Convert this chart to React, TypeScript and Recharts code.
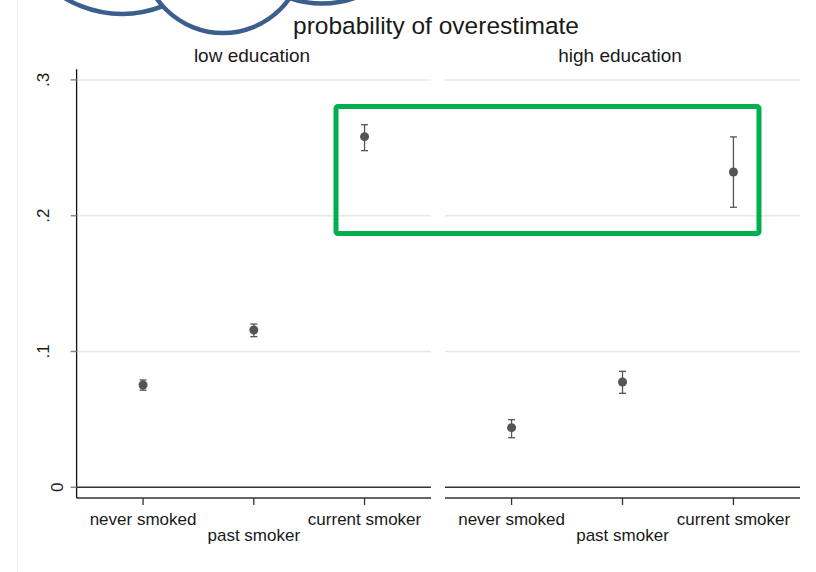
import React from 'react';
import { ScatterChart, Scatter, XAxis, YAxis, ErrorBar, ReferenceLine } from 'recharts';

// ---- data ----
const categories = ['never smoked', 'past smoker', 'current smoker'];
const panelTitles = ['low education', 'high education'];
const chartTitle = 'probability of overestimate';

const lowEduEstimate = [0.0753, 0.1158, 0.2582];
const lowEduLower = [0.0715, 0.1109, 0.2479];
const lowEduUpper = [0.079, 0.1202, 0.267];

const highEduEstimate = [0.0439, 0.0775, 0.2322];
const highEduLower = [0.0365, 0.0692, 0.2062];
const highEduUpper = [0.0498, 0.0854, 0.258];

const yTicks = [0, 0.1, 0.2, 0.3];
const yTickLabels = ['0', '.1', '.2', '.3'];
const gridValues = [0.1, 0.2, 0.3];
const xTicks = [1, 2, 3];

const buildRows = (est: number[], lo: number[], hi: number[]) =>
  categories.map((c, i) => ({ x: i + 1, y: est[i], err: [est[i] - lo[i], hi[i] - est[i]], name: c }));

const lowRows = buildRows(lowEduEstimate, lowEduLower, lowEduUpper);
const highRows = buildRows(highEduEstimate, highEduLower, highEduUpper);

// ---- layout ----
const W = 816;
const H = 572;
const FONT = '"Liberation Sans", Arial, Helvetica, sans-serif';
const Y_DOMAIN: [number, number] = [-0.0079, 0.3078];
const X_DOMAIN: [number, number] = [0.4, 3.6];
const PLOT_TOP = 69.3;
const PLOT_BOTTOM = 498;
const TEXT = '#1a1a1a';
const MARK = '#555555';

const XTick = (props: any) => {
  const { x, payload } = props;
  const idx = Math.round(payload.value) - 1;
  const yy = idx === 1 ? 541 : 525;
  return (
    <text x={x} y={yy} textAnchor="middle" fontSize={17} fill={TEXT} fontFamily={FONT}>
      {categories[idx]}
    </text>
  );
};

const YTick = (props: any) => {
  const { y, payload } = props;
  const i = yTicks.indexOf(payload.value);
  const bx = payload.value === 0 ? 63 : 49;
  return (
    <text
      transform={`translate(${bx},${y}) rotate(-90)`}
      textAnchor="middle"
      fontSize={17}
      fill={TEXT}
      fontFamily={FONT}
    >
      {yTickLabels[i]}
    </text>
  );
};

const Panel = ({ rows, left, width, marginLeft, marginRight, showY }: any) => (
  <div style={{ position: 'absolute', left, top: 0 }}>
    <ScatterChart
      width={width}
      height={H}
      margin={{ top: PLOT_TOP, right: marginRight, bottom: 0, left: marginLeft }}
    >
      <XAxis
        type="number"
        dataKey="x"
        domain={X_DOMAIN}
        ticks={xTicks}
        allowDataOverflow
        height={H - PLOT_BOTTOM}
        axisLine={{ stroke: '#333', strokeWidth: 1.3 }}
        tickLine={{ stroke: '#333', strokeWidth: 1.3 }}
        tickSize={7}
        tick={<XTick />}
        interval={0}
      />
      <YAxis
        type="number"
        dataKey="y"
        domain={Y_DOMAIN}
        ticks={yTicks}
        allowDataOverflow
        hide={!showY}
        width={76.6}
        axisLine={{ stroke: '#111', strokeWidth: 1.3 }}
        tickLine={{ stroke: '#888', strokeWidth: 1.5 }}
        tickSize={6}
        tick={<YTick />}
        interval={0}
      />
      {gridValues.map((g) => (
        <ReferenceLine key={g} y={g} stroke="#e8e8e8" strokeWidth={1.5} />
      ))}
      <ReferenceLine y={0} stroke="#333" strokeWidth={1.3} />
      <Scatter data={rows} fill={MARK} shape="circle" isAnimationActive={false}>
        <ErrorBar dataKey="err" direction="y" width={3.5} stroke={MARK} strokeWidth={1.3} isAnimationActive={false} />
      </Scatter>
    </ScatterChart>
  </div>
);

export default function App() {
  return (
    <div
      style={{
        position: 'absolute',
        left: 0,
        top: 0,
        width: W,
        height: H,
        background: '#fff',
        overflow: 'hidden',
        fontFamily: FONT,
      }}
    >
      <Panel rows={lowRows} left={0} width={440} marginLeft={0} marginRight={9} showY />
      <Panel rows={highRows} left={440} width={376} marginLeft={5} marginRight={16} showY={false} />
      <svg
        width={W}
        height={H}
        style={{ position: 'absolute', left: 0, top: 0, pointerEvents: 'none' }}
      >
        <line x1={17.5} y1={0} x2={17.5} y2={H} stroke="#ececec" strokeWidth={1} />
        <circle cx={322} cy={-96.5} r={100} fill="#fff" stroke="#3b5e8c" strokeWidth={4.5} />
        <circle cx={122} cy={-97} r={111} fill="#fff" stroke="#3b5e8c" strokeWidth={4.5} />
        <circle cx={223} cy={-48} r={81} fill="#fff" stroke="#3b5e8c" strokeWidth={4.5} />
        <text x={436} y={33.5} textAnchor="middle" fontSize={24.5} fill={TEXT} fontFamily={FONT}>
          {chartTitle}
        </text>
        <text x={252} y={62} textAnchor="middle" fontSize={19} fill={TEXT} fontFamily={FONT}>
          {panelTitles[0]}
        </text>
        <text x={620} y={62} textAnchor="middle" fontSize={19} fill={TEXT} fontFamily={FONT}>
          {panelTitles[1]}
        </text>
        <rect x={336} y={106.5} width={423} height={127} rx={2} fill="none" stroke="#00b050" strokeWidth={5} />
      </svg>
    </div>
  );
}
